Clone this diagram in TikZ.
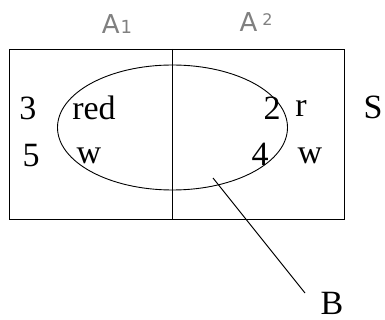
\documentclass[tikz,border=0pt]{standalone}
\usepackage{fontspec}
\setmainfont{Liberation Serif}
\newfontfamily\handfont{DejaVu Sans}
\begin{document}
\begin{tikzpicture}[x=1pt,y=-1pt,
  lbl/.style={inner sep=0pt,font=\fontsize{34}{34}\selectfont},
  hand/.style={inner sep=0pt,text=black!50,font=\handfont\fontsize{26}{26}\selectfont},
  edge/.style={line width=0.9pt}]
\useasboundingbox (0,0) rectangle (385,320);
\draw[edge] (9,49) rectangle (344,219);
\coordinate (dtop) at (172,49);
\coordinate (dbot) at (172,219);
\draw[edge] (dtop) -- (dbot);
\draw[edge] (172.5,127.5) ellipse [x radius=115, y radius=62.5];
\node[hand] (a1) at (117,24) {A\kern1pt{\fontsize{18}{18}\selectfont 1}};
\node[hand] (a2) at (256,22) {A\kern5pt\raisebox{6pt}{\fontsize{16}{16}\selectfont 2}};
\node[lbl] (n3) at (28,108) {3};
\node[lbl] (red) at (94,108) {red};
\node[lbl] (n2) at (272,108) {2};
\node[lbl] (r) at (301,108) {r};
\node[lbl] (S) at (373,107) {S};
\node[lbl] (n5) at (31,156) {5};
\node[lbl] (w1) at (89,156) {w};
\node[lbl] (n4) at (260,154) {4};
\node[lbl] (w2) at (310,156) {w};
\coordinate (bin) at (213,178);
\node[lbl] (B) at (332,303) {B};
\draw[line width=1pt] (bin) -- (305,293);
\end{tikzpicture}
\end{document}
